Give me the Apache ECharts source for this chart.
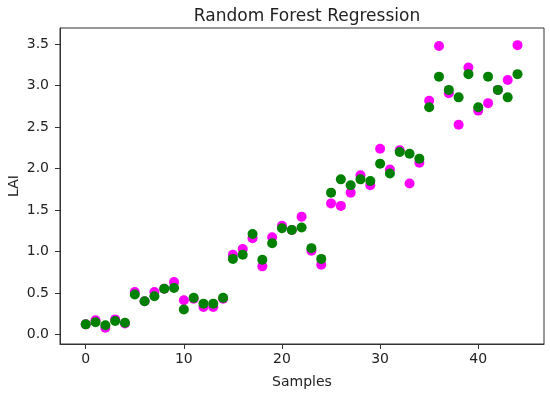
<!DOCTYPE html>
<html>
<head>
<meta charset="utf-8">
<script src="https://cdn.jsdelivr.net/npm/echarts@6/dist/echarts.min.js"></script>
<style>html,body{margin:0;padding:0;background:#fff}#c{width:550px;height:394px}</style>
</head>
<body>
<div id="c"></div>
<script>
const samples = Array.from({length: 45}, (_, i) => i);
const actual = [0.12,0.17,0.08,0.18,0.13,0.51,0.40,0.51,0.55,0.63,
  0.41,0.43,0.33,0.33,0.43,0.96,1.03,1.16,0.82,1.17,
  1.31,1.26,1.42,1.01,0.84,1.58,1.55,1.71,1.92,1.80,
  2.24,1.99,2.22,1.82,2.07,2.82,3.48,2.91,2.53,3.22,
  2.70,2.79,2.95,3.07,3.49];
const predicted = [0.12,0.145,0.11,0.16,0.14,0.48,0.40,0.46,0.55,0.56,
  0.30,0.44,0.37,0.37,0.44,0.91,0.96,1.21,0.90,1.10,
  1.28,1.26,1.29,1.04,0.91,1.71,1.87,1.80,1.87,1.85,
  2.06,1.94,2.20,2.18,2.12,2.74,3.11,2.95,2.86,3.14,
  2.74,3.11,2.95,2.86,3.14];
const xTicks = [0, 10, 20, 30, 40];
const yTicks = [0, 0.5, 1.0, 1.5, 2.0, 2.5, 3.0, 3.5];

const font = 'DejaVu Sans';
const chart = echarts.init(document.getElementById('c'), null, {renderer: 'canvas'});
chart.setOption({
  animation: false,
  backgroundColor: '#fff',
  title: {
    text: 'Random Forest Regression',
    left: 302, top: 3, textAlign: 'center',
    textStyle: {fontFamily: font, fontSize: 17, fontWeight: 'normal', color: '#222'}
  },
  grid: {left: 60, right: 6, top: 28, bottom: 50, show: true, borderColor: '#333', borderWidth: 1,
    backgroundColor: 'transparent', outerBoundsMode: 'none', containLabel: false},
  xAxis: {
    type: 'value', min: -2.62, max: 46.7,
    name: 'Samples', nameLocation: 'middle', nameGap: 31, nameMoveOverlap: false,
    nameTextStyle: {fontFamily: font, fontSize: 14, color: '#222'},
    axisLine: {show: true, onZero: false, lineStyle: {color: '#333', width: 1}},
    axisTick: {show: true, inside: false, length: 5, lineStyle: {color: '#333'}, customValues: xTicks},
    axisLabel: {fontFamily: font, fontSize: 14, color: '#222', margin: 8, customValues: xTicks},
    splitLine: {show: false}
  },
  yAxis: {
    type: 'value', min: -0.117, max: 3.697,
    name: 'LAI', nameLocation: 'middle', nameGap: 39, nameMoveOverlap: false,
    nameTextStyle: {fontFamily: font, fontSize: 14, color: '#222'},
    axisLine: {show: true, onZero: false, lineStyle: {color: '#333', width: 1}},
    axisTick: {show: true, inside: false, length: 5, lineStyle: {color: '#333'}, customValues: yTicks},
    axisLabel: {fontFamily: font, fontSize: 14, color: '#222', margin: 11, customValues: yTicks,
      formatter: v => v.toFixed(1)},
    splitLine: {show: false}
  },
  series: [
    {type: 'scatter', name: 'Actual', symbol: 'circle', symbolSize: 10,
     itemStyle: {color: '#ff00ff', opacity: 1},
     data: samples.map((s, i) => [s, actual[i]])},
    {type: 'scatter', name: 'Predicted', symbol: 'circle', symbolSize: 10,
     itemStyle: {color: '#008000', opacity: 1},
     data: samples.map((s, i) => [s, predicted[i]])}
  ]
});
</script>
</body>
</html>
